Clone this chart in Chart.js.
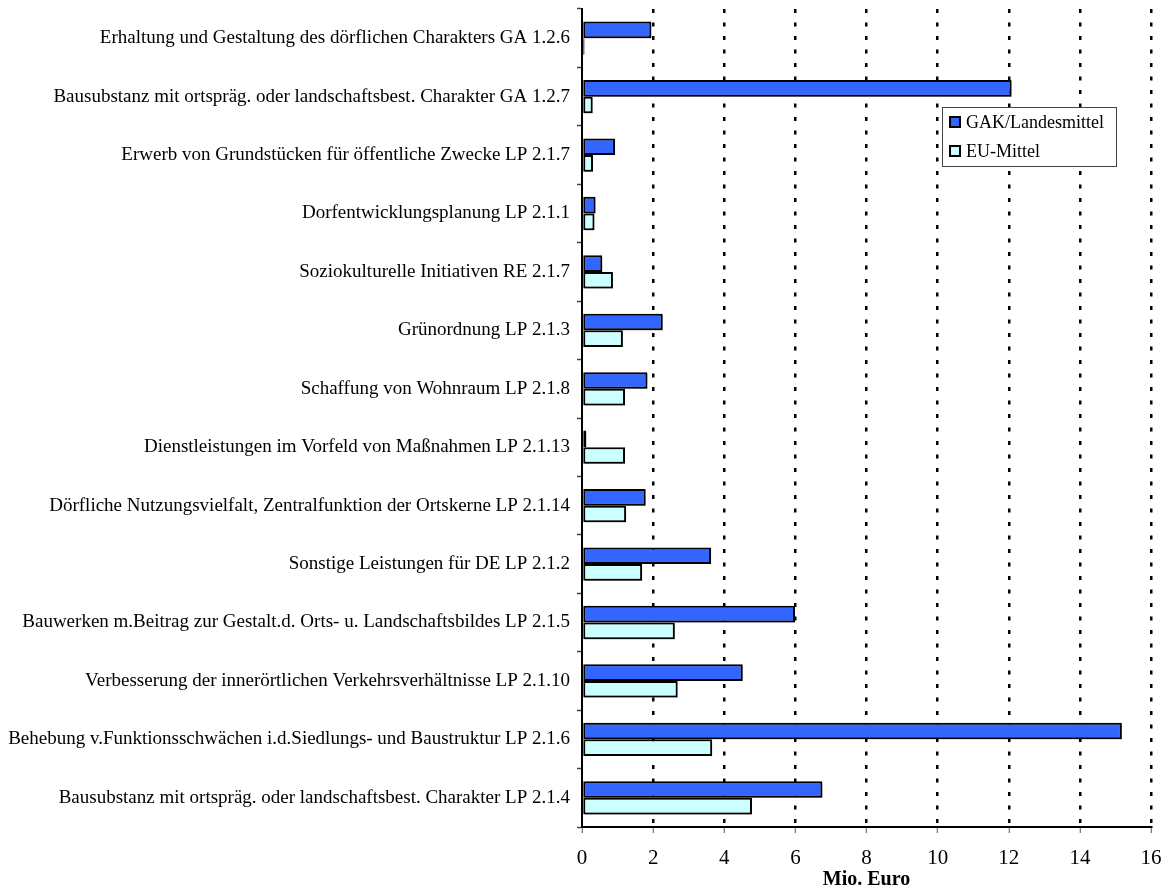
<!DOCTYPE html>
<html lang="de">
<head>
    <meta charset="UTF-8">
    <title>Mio. Euro je Maßnahme</title>
    <script src="https://cdn.jsdelivr.net/npm/chart.js"></script>
    <style>
        html, body { margin: 0; padding: 0; background: #fff; }
        #wrap { width: 1164px; height: 888px; }
    </style>
</head>
<body>
    <div id="wrap"><canvas id="myChart" width="1164" height="888"></canvas></div>
    <script>
        // Maßnahmen (von oben nach unten)
        const categories = [
            'Erhaltung und Gestaltung des dörflichen Charakters GA 1.2.6',
            'Bausubstanz mit ortspräg. oder landschaftsbest. Charakter GA 1.2.7',
            'Erwerb von Grundstücken für öffentliche Zwecke LP 2.1.7',
            'Dorfentwicklungsplanung LP 2.1.1',
            'Soziokulturelle Initiativen RE 2.1.7',
            'Grünordnung LP 2.1.3',
            'Schaffung von Wohnraum LP 2.1.8',
            'Dienstleistungen im Vorfeld von Maßnahmen LP 2.1.13',
            'Dörfliche Nutzungsvielfalt, Zentralfunktion der Ortskerne LP 2.1.14',
            'Sonstige Leistungen für DE LP 2.1.2',
            'Bauwerken m.Beitrag zur Gestalt.d. Orts- u. Landschaftsbildes LP 2.1.5',
            'Verbesserung der innerörtlichen Verkehrsverhältnisse LP 2.1.10',
            'Behebung v.Funktionsschwächen i.d.Siedlungs- und Baustruktur LP 2.1.6',
            'Bausubstanz mit ortspräg. oder landschaftsbest. Charakter LP 2.1.4'
        ];

        // Mio. Euro
        const gakLandesmittel = [1.95, 12.08, 0.93, 0.38, 0.57, 2.27, 1.84, 0.12, 1.79, 3.63, 5.99, 4.52, 15.18, 6.76];
        const euMittel        = [0.07, 0.30, 0.31, 0.35, 0.87, 1.15, 1.21, 1.21, 1.24, 1.69, 2.61, 2.69, 3.66, 4.78];

        const xTicks = [0, 2, 4, 6, 8, 10, 12, 14, 16];

        const serif = '"Liberation Serif", "Times New Roman", serif';

        // grauer Schatten unter den Balken
        const barShadow = {
            id: 'barShadow',
            beforeDatasetsDraw(chart) {
                const c = chart.ctx;
                c.save();
                c.shadowColor = 'rgba(0,0,0,0.35)';
                c.shadowOffsetX = 1.5;
                c.shadowOffsetY = 1.5;
                c.shadowBlur = 0;
            },
            afterDatasetsDraw(chart) {
                chart.ctx.restore();
            }
        };

        // Legende innerhalb der Zeichenfläche
        const boxLegend = {
            id: 'boxLegend',
            afterDraw(chart) {
                const ctx = chart.ctx;
                const x = 942, y = 107, w = 174, h = 59;
                ctx.save();
                ctx.fillStyle = '#fff';
                ctx.fillRect(x, y, w, h);
                ctx.strokeStyle = '#444';
                ctx.lineWidth = 1;
                ctx.strokeRect(x + 0.5, y + 0.5, w, h);
                ctx.font = '18px ' + serif;
                ctx.textBaseline = 'middle';
                chart.data.datasets.forEach((ds, i) => {
                    const cy = y + 15 + i * 29;
                    ctx.fillStyle = ds.backgroundColor;
                    ctx.fillRect(x + 8, cy - 5, 10, 10);
                    ctx.strokeStyle = '#000';
                    ctx.lineWidth = 2;
                    ctx.strokeRect(x + 8, cy - 5, 10, 10);
                    ctx.fillStyle = '#000';
                    ctx.fillText(ds.label, x + 24, cy + 1);
                });
                ctx.restore();
            }
        };

        const ctx = document.getElementById('myChart').getContext('2d');

        const config = {
            type: 'bar',
            data: {
                labels: categories,
                datasets: [
                    {
                        label: 'GAK/Landesmittel',
                        data: gakLandesmittel,
                        backgroundColor: '#3366FF',
                        borderColor: '#000',
                        borderWidth: 2,
                        borderSkipped: false,
                        categoryPercentage: 0.57,
                        barPercentage: 1.0
                    },
                    {
                        label: 'EU-Mittel',
                        data: euMittel,
                        backgroundColor: '#CCFFFF',
                        borderColor: '#000',
                        borderWidth: 2,
                        borderSkipped: false,
                        categoryPercentage: 0.57,
                        barPercentage: 1.0
                    }
                ]
            },
            options: {
                indexAxis: 'y',
                responsive: false,
                animation: false,
                layout: { padding: { top: 9, right: 13, left: 0, bottom: 0 } },
                plugins: {
                    legend: { display: false },
                    tooltip: { enabled: false }
                },
                scales: {
                    x: {
                        min: 0,
                        max: 16,
                        afterBuildTicks: (scale) => { scale.ticks = xTicks.map(v => ({ value: v })); },
                        afterFit: (scale) => {
                            scale.height = 61;
                            scale.paddingLeft = 0;
                            scale.paddingRight = 0;
                        },
                        grid: {
                            color: (c) => c.index === 0 ? 'rgba(0,0,0,0)' : '#000',
                            lineWidth: 2.5,
                            tickColor: '#555',
                            tickWidth: 1,
                            tickLength: 6,
                            tickBorderDash: []
                        },
                        border: { display: true, color: '#000', width: 2, dash: [4, 9.5] },
                        ticks: {
                            color: '#000',
                            font: { family: serif, size: 21 },
                            padding: 13,
                            maxRotation: 0
                        },
                        title: {
                            display: true,
                            text: 'Mio. Euro',
                            color: '#000',
                            font: { family: serif, size: 20, weight: 'bold' },
                            padding: { top: 0, bottom: -4 }
                        }
                    },
                    y: {
                        afterFit: (scale) => {
                            scale.width = 582;
                            scale.paddingTop = 0;
                            scale.paddingBottom = 0;
                        },
                        grid: {
                            drawOnChartArea: false,
                            drawTicks: true,
                            tickLength: 5,
                            tickColor: '#444',
                            tickWidth: 1.5
                        },
                        border: { display: true, color: '#000', width: 2 },
                        ticks: {
                            color: '#000',
                            font: { family: serif, size: 19 },
                            padding: 7,
                            autoSkip: false
                        }
                    }
                }
            },
            plugins: [barShadow, boxLegend]
        };

        new Chart(ctx, config);
    </script>
</body>
</html>
